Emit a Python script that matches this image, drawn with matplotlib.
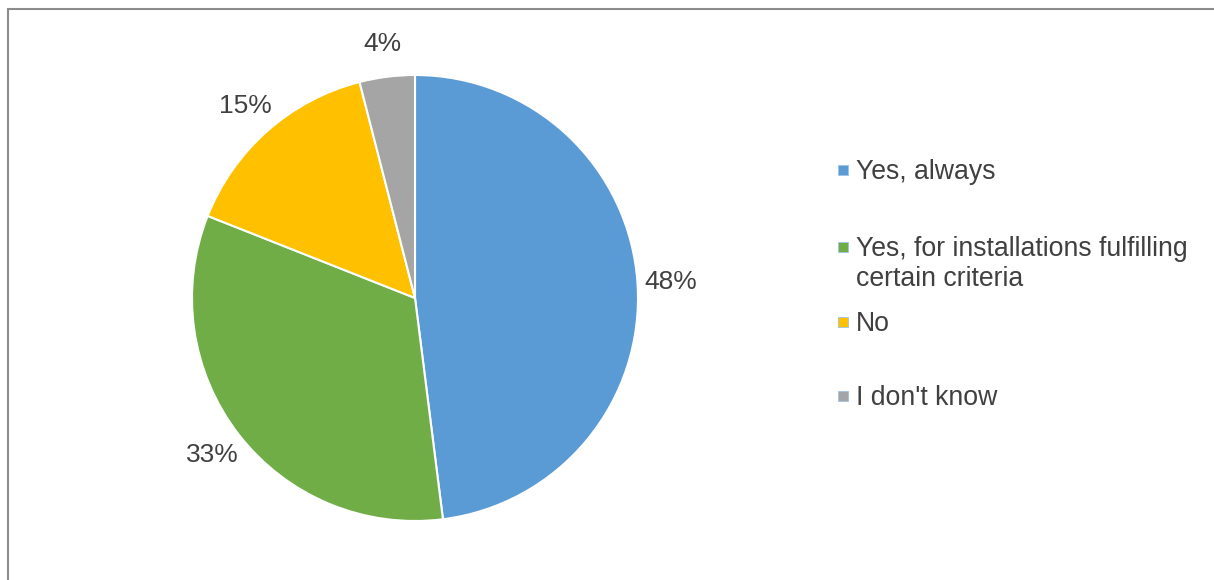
import numpy as np
import matplotlib
matplotlib.use("Agg")
import matplotlib.pyplot as plt
from matplotlib.patches import Rectangle

plt.rcParams['font.family'] = ['Liberation Sans', 'DejaVu Sans']

labels = ['Yes, always', 'Yes, for installations fulfilling\ncertain criteria', 'No', "I don't know"]
values = [48, 33, 15, 4]
colors = ['#5B9BD5', '#70AD47', '#FFC000', '#A5A5A5']
txt_color = '#404040'

W, H = 1214, 580
fig = plt.figure(figsize=(W/100.0, H/100.0), dpi=100)

# pie axes, centre (415,298) radius 223 px
cx, cy, r = 415, 298, 223
ax = fig.add_axes([(cx-r)/W, (H-cy-r)/H, 2*r/W, 2*r/H])
wedges, texts, autotexts = ax.pie(values, colors=colors, startangle=90, counterclock=False,
                                  autopct='%.0f%%', pctdistance=1.15,
                                  wedgeprops=dict(edgecolor='white', linewidth=1.5))
for t in autotexts:
    t.set_fontsize(19)
    t.set_color(txt_color)
ax.set_xlim(-1, 1)
ax.set_ylim(-1, 1)
ax.set_aspect('equal')

# legend drawn by hand (slots top-aligned like the original)
marker_y = [170, 247, 322, 396]
for lab, col, my in zip(labels, colors, marker_y):
    fig.patches.append(Rectangle((838/W, 1-(my+5)/H), 10/W, 10/H, transform=fig.transFigure,
                                 facecolor=col, edgecolor='#9DC3E6', linewidth=0.6))
    fig.text(856/W, 1-(my-11)/H, lab, fontsize=19.2, color=txt_color, va='top', ha='left',
             linespacing=1.22)

# chart frame (only top and left edges visible)
fig.patches.append(Rectangle((8/W, -0.1), 1.2, 1-9.5/H+0.1, transform=fig.transFigure,
                             facecolor='none', edgecolor='#8C8C8C', linewidth=1.5))

fig.savefig('out.png', dpi=100)
